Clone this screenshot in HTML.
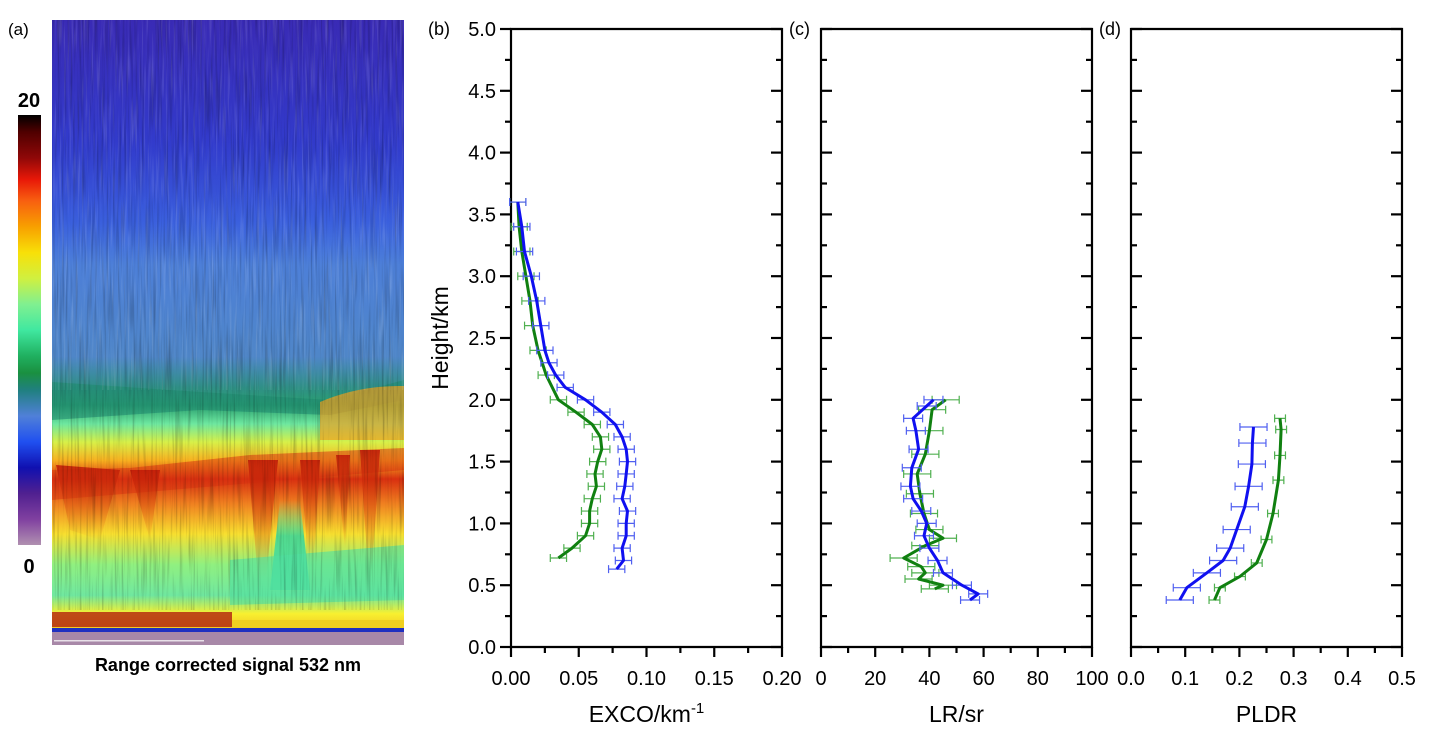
<!DOCTYPE html>
<html><head><meta charset="utf-8"><style>
body{margin:0;background:#fff;}
svg text{font-family:"Liberation Sans",Arial,sans-serif;}
</style></head><body>
<svg id="fig" width="1436" height="737" viewBox="0 0 1436 737" xmlns="http://www.w3.org/2000/svg">
<defs>
<linearGradient id="lidar" x1="0" y1="0" x2="0" y2="1">
<stop offset="0" stop-color="#3530c0"/>
<stop offset="0.2" stop-color="#2f40d4"/>
<stop offset="0.33" stop-color="#3a62e0"/>
<stop offset="0.4" stop-color="#4d7fd8"/>
<stop offset="0.55" stop-color="#4f86c8"/>
<stop offset="0.6" stop-color="#2f8f86"/>
<stop offset="0.63" stop-color="#2aa070"/>
<stop offset="0.66" stop-color="#6ee8a0"/>
<stop offset="0.69" stop-color="#d8f048"/>
<stop offset="0.72" stop-color="#f8b020"/>
<stop offset="0.75" stop-color="#d83010"/>
<stop offset="0.79" stop-color="#f08020"/>
<stop offset="0.84" stop-color="#f8e030"/>
<stop offset="0.89" stop-color="#90f080"/>
<stop offset="0.94" stop-color="#70e8a0"/>
<stop offset="0.97" stop-color="#f8f030"/>
<stop offset="1" stop-color="#f0c020"/>
</linearGradient>
<linearGradient id="cbar" x1="0" y1="0" x2="0" y2="1">
<stop offset="0" stop-color="#000"/>
<stop offset="0.04" stop-color="#500000"/>
<stop offset="0.1" stop-color="#900808"/>
<stop offset="0.15" stop-color="#e81808"/>
<stop offset="0.2" stop-color="#f86010"/>
<stop offset="0.26" stop-color="#f8a000"/>
<stop offset="0.32" stop-color="#f8e008"/>
<stop offset="0.38" stop-color="#d0f040"/>
<stop offset="0.44" stop-color="#80f090"/>
<stop offset="0.5" stop-color="#40e8a0"/>
<stop offset="0.56" stop-color="#20b060"/>
<stop offset="0.6" stop-color="#1a9040"/>
<stop offset="0.64" stop-color="#208080"/>
<stop offset="0.7" stop-color="#5080d8"/>
<stop offset="0.76" stop-color="#2050f0"/>
<stop offset="0.82" stop-color="#1010b0"/>
<stop offset="0.88" stop-color="#502090"/>
<stop offset="0.94" stop-color="#8040a0"/>
<stop offset="1" stop-color="#b090b0"/>
</linearGradient>
<linearGradient id="plume" x1="0" y1="0" x2="0" y2="1">
<stop offset="0" stop-color="#c01808" stop-opacity="0.85"/>
<stop offset="1" stop-color="#e06010" stop-opacity="0"/>
</linearGradient>
<linearGradient id="gplume" x1="0" y1="0" x2="0" y2="1">
<stop offset="0" stop-color="#50e0a0" stop-opacity="0"/>
<stop offset="0.4" stop-color="#40d898" stop-opacity="0.9"/>
<stop offset="1" stop-color="#50e0a0" stop-opacity="0.9"/>
</linearGradient>
<linearGradient id="purp" x1="0" y1="0" x2="0" y2="1">
<stop offset="0" stop-color="#4020a0" stop-opacity="0.35"/>
<stop offset="1" stop-color="#4020a0" stop-opacity="0"/>
</linearGradient>
<filter id="streaks" x="0" y="0" width="100%" height="100%">
<feTurbulence type="fractalNoise" baseFrequency="0.45 0.015" numOctaves="2" seed="3"/>
<feColorMatrix type="matrix" values="0 0 0 0 0  0 0 0 0 0  0 0 0 0 0  0 0 0 1.6 -0.75"/>
</filter>
<filter id="streaks2" x="0" y="0" width="100%" height="100%">
<feTurbulence type="fractalNoise" baseFrequency="0.5 0.02" numOctaves="2" seed="11"/>
<feColorMatrix type="matrix" values="0 0 0 0 1  0 0 0 0 1  0 0 0 0 1  0 0 0 1.6 -0.8"/>
</filter>
</defs>

<g>
<text x="8" y="35" font-size="17">(a)</text>
<rect x="52" y="20" width="352" height="612" fill="url(#lidar)"/>
<rect x="52" y="20" width="352" height="230" fill="url(#purp)"/>
<path d="M52,382 L200,392 L330,400 L404,380 L404,400 L330,415 L200,410 L52,420 Z" fill="#208a70" opacity="0.6"/>
<path d="M320,402 Q360,385 404,386 L404,440 L320,440 Z" fill="#f0a020" opacity="0.7"/>
<path d="M52,470 L130,468 L250,455 L404,448 L404,470 L52,500 Z" fill="#d83010" opacity="0.5"/>
<path d="M248,460 L278,460 L266,580 L258,580 Z" fill="url(#plume)"/>
<path d="M56,465 L120,470 L100,540 L70,530 Z" fill="url(#plume)"/>
<path d="M300,460 L320,460 L314,560 L308,560 Z" fill="url(#plume)"/>
<path d="M336,455 L350,455 L345,550 Z" fill="url(#plume)"/>
<path d="M360,450 L380,450 L372,570 L368,570 Z" fill="url(#plume)"/>
<path d="M130,470 L160,470 L150,540 Z" fill="url(#plume)"/>
<path d="M280,500 L300,500 L310,590 L270,590 Z" fill="url(#gplume)"/>
<path d="M230,560 L404,545 L404,600 L230,605 Z" fill="#50e0a0" opacity="0.6"/>
<rect x="52" y="20" width="352" height="590" filter="url(#streaks)" opacity="0.35"/>
<rect x="52" y="20" width="352" height="370" filter="url(#streaks2)" opacity="0.25"/>
<rect x="52" y="612" width="180" height="15" fill="#b02010" opacity="0.8"/>
<rect x="232" y="620" width="172" height="8" fill="#f0d020"/>
<rect x="52" y="628" width="352" height="4" fill="#2030c0"/>
<rect x="52" y="632" width="352" height="13" fill="#a888a8"/>
<rect x="54" y="640" width="150" height="1.5" fill="#e8e0e8"/>
<rect x="18" y="115" width="23" height="430" fill="url(#cbar)"/>
<text x="29" y="107" font-size="20" font-weight="bold" text-anchor="middle">20</text>
<text x="29" y="573" font-size="20" font-weight="bold" text-anchor="middle">0</text>
<text x="228" y="671" font-size="18" font-weight="bold" text-anchor="middle">Range corrected signal 532 nm</text>
</g>
<g id="charts"></g>
</svg>
<script>
// Panel b: EXCO
const excoBlueH = [0.63,0.7,0.8,0.9,1.0,1.1,1.2,1.3,1.4,1.5,1.6,1.7,1.8,1.9,2.0,2.1,2.2,2.3,2.4,2.6,2.8,3.0,3.2,3.4,3.6];
const excoBlueV = [0.078,0.083,0.082,0.085,0.085,0.086,0.082,0.084,0.085,0.086,0.085,0.082,0.077,0.067,0.055,0.040,0.033,0.028,0.025,0.022,0.019,0.015,0.010,0.008,0.005];
const excoGreenH = [0.72,0.8,0.9,1.0,1.1,1.2,1.3,1.4,1.5,1.6,1.7,1.8,1.9,2.0,2.2,2.4,2.6,2.8,3.0,3.2,3.4,3.6];
const excoGreenV = [0.035,0.045,0.055,0.058,0.058,0.060,0.063,0.062,0.064,0.067,0.066,0.060,0.048,0.035,0.026,0.020,0.016,0.014,0.011,0.008,0.006,0.005];
const excoErr = 0.006;
// Panel c: LR
const lrBlueH = [0.38,0.43,0.5,0.6,0.7,0.8,0.9,1.0,1.1,1.2,1.3,1.45,1.6,1.75,1.85,1.95,2.0];
const lrBlueV = [55,58,52,45,43,40,38,39,37,34,33,33.5,36,35,34,39,41.5];
const lrGreenH = [0.47,0.5,0.55,0.6,0.65,0.72,0.82,0.88,0.95,1.08,1.24,1.4,1.56,1.75,1.92,2.0];
const lrGreenV = [42,45,36,38.5,37,30.5,38.5,45,40,38,36.5,35.5,38.5,40,41,46];
const lrErr = 5;
// Panel d: PLDR
const pdBlueH = [0.38,0.48,0.6,0.7,0.8,0.95,1.135,1.3,1.48,1.65,1.78];
const pdBlueV = [0.090,0.103,0.140,0.170,0.183,0.195,0.210,0.217,0.223,0.224,0.226];
const pdGreenH = [0.38,0.48,0.57,0.68,0.87,1.08,1.35,1.55,1.76,1.85];
const pdGreenV = [0.154,0.164,0.201,0.232,0.250,0.262,0.272,0.275,0.277,0.275];
const pdBlueErr = 0.025, pdGreenErr = 0.01;

const yTicks = ["0.0","0.5","1.0","1.5","2.0","2.5","3.0","3.5","4.0","4.5","5.0"];
const excoTicks = ["0.00","0.05","0.10","0.15","0.20"];
const lrTicks = ["0","20","40","60","80","100"];
const pdTicks = ["0.0","0.1","0.2","0.3","0.4","0.5"];

const NS="http://www.w3.org/2000/svg";
const root=document.getElementById('charts');
const TOP=29,BOT=647;
function yS(h){return BOT-(h/5)*(BOT-TOP);}
function mk(tag,attrs,parent){const e=document.createElementNS(NS,tag);for(const k in attrs)e.setAttribute(k,attrs[k]);(parent||root).appendChild(e);return e;}

function panel(name,x0,x1,xmax,ticks,leftLabels,letter,letterX,title,sup,series){
  const g=mk('g',{});
  
  
  const xS=v=>x0+(v/xmax)*(x1-x0);
  const fr=mk('path',{d:`M${x0},${TOP} L${x1},${TOP} L${x1},${BOT} L${x0},${BOT} Z`,fill:'none',stroke:'#000','stroke-width':2.2},g);
  
  
  for(let i=0;i<=20;i++){
    const y=yS(i*0.25),maj=i%2==0;
    const L=maj?11:6;
    if(leftLabels) mk('line',{x1:x0-L,x2:x0,y1:y,y2:y,stroke:'#000','stroke-width':2.2},g);
    else mk('line',{x1:x0,x2:x0+L,y1:y,y2:y,stroke:'#000','stroke-width':2.2},g);
    mk('line',{x1:x1-L,x2:x1,y1:y,y2:y,stroke:'#000','stroke-width':2.2},g);
  }
  if(leftLabels){
    yTicks.forEach((t,i)=>{const tx=mk('text',{x:x0-15,y:yS(i*0.5)+7,'font-size':20,'text-anchor':'end'},g);tx.textContent=t;
      
      });
    const yt=mk('text',{x:0,y:0,'font-size':23,'text-anchor':'middle',transform:`translate(448,${yS(2.5)}) rotate(-90)`},g);
    yt.textContent='Height/km';
    
    
  }
  const n=ticks.length-1;
  for(let i=0;i<=n*2;i++){
    const x=x0+(i/(n*2))*(x1-x0),maj=i%2==0;
    mk('line',{x1:x,x2:x,y1:BOT,y2:BOT+(maj?10:6),stroke:'#000','stroke-width':2.2},g);
  }
  ticks.forEach((t,i)=>{const tx=mk('text',{x:x0+(i/n)*(x1-x0),y:685,'font-size':20,'text-anchor':'middle'},g);tx.textContent=t;
    
    });
  const xt=mk('text',{x:(x0+x1)/2,y:722,'font-size':23,'text-anchor':'middle'},g);
  xt.textContent=title;
  if(sup){const s=mk('tspan',{'font-size':15,dy:-9},xt);s.textContent=sup;}
  
  
  const lt=mk('text',{x:letterX,y:35,'font-size':18},g);
  lt.textContent=letter;
  
  
  series.forEach(s=>{
    const eg=mk('g',{},g);
    
    
    s.h.forEach((h,i)=>{
      const y=yS(h),xa=xS(s.v[i]-s.err),xb=xS(s.v[i]+s.err);
      mk('path',{d:`M${xa},${y} L${xb},${y} M${xa},${y-4} L${xa},${y+4} M${xb},${y-4} L${xb},${y+4}`,stroke:s.ec,'stroke-width':1.2,fill:'none'},eg);
    });
    const d=s.h.map((h,i)=>(i?'L':'M')+xS(s.v[i]).toFixed(1)+','+yS(h).toFixed(1)).join(' ');
    const p=mk('path',{d:d,stroke:s.c,'stroke-width':3,fill:'none','stroke-linejoin':'round'},g);
    
    
  });
}
panel('panel-b-exco',511,782,0.2,excoTicks,true,'(b)',428,'EXCO/km','-1',[
 {name:'exco-green',h:excoGreenH,v:excoGreenV,err:excoErr,c:'#108010',ec:'#50b050'},
 {name:'exco-blue',h:excoBlueH,v:excoBlueV,err:excoErr,c:'#1010f0',ec:'#5060f0'}]);
panel('panel-c-lr',821,1092,100,lrTicks,false,'(c)',789,'LR/sr','',[
 {name:'lr-green',h:lrGreenH,v:lrGreenV,err:lrErr,c:'#108010',ec:'#50b050'},
 {name:'lr-blue',h:lrBlueH,v:lrBlueV,err:lrErr*0.7,c:'#1010f0',ec:'#5060f0'}]);
panel('panel-d-pldr',1131,1402,0.5,pdTicks,false,'(d)',1099,'PLDR','',[
 {name:'pldr-green',h:pdGreenH,v:pdGreenV,err:pdGreenErr,c:'#108010',ec:'#50b050'},
 {name:'pldr-blue',h:pdBlueH,v:pdBlueV,err:pdBlueErr,c:'#1010f0',ec:'#5060f0'}]);
</script>
</body></html>
